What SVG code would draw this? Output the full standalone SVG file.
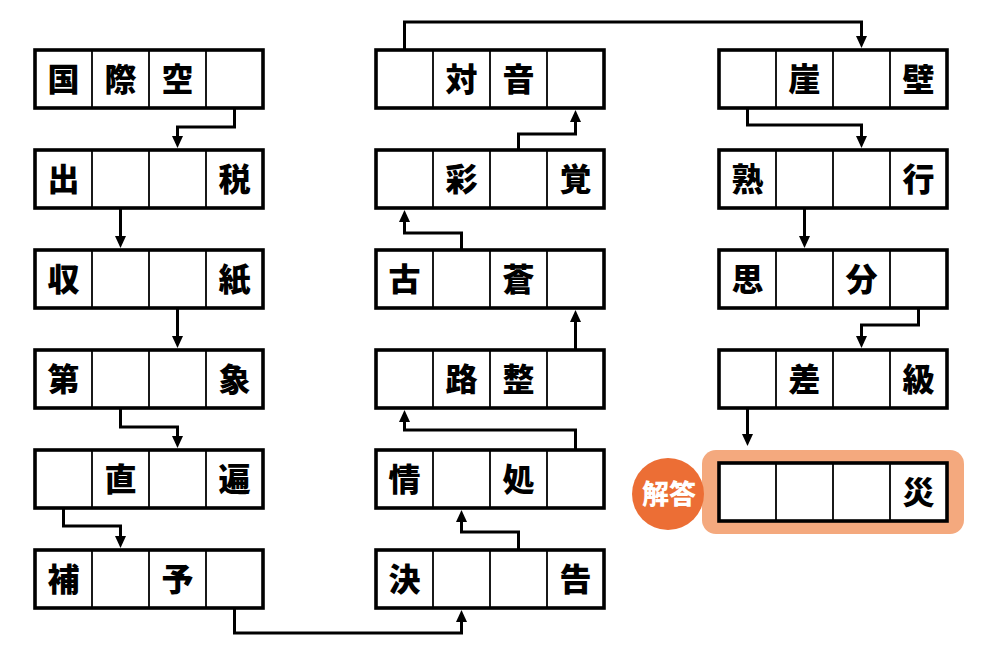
<svg xmlns="http://www.w3.org/2000/svg" width="987" height="667" viewBox="0 0 987 667">
<defs>
<style>
.box{fill:#fff;stroke:#000;stroke-width:3.6}
.div{stroke:#000;stroke-width:1.8}
.ch{font-family:"Noto Sans CJK JP","Noto Sans CJK SC",sans-serif;font-weight:900;font-size:32px;text-anchor:middle;fill:#000}
.con{fill:none;stroke:#000;stroke-width:3}
.ans{font-family:"Noto Sans CJK JP","Noto Sans CJK SC",sans-serif;font-weight:900;font-size:27px;text-anchor:middle;fill:#fff}
</style>
<marker id="arr" markerUnits="userSpaceOnUse" markerWidth="13" markerHeight="12" refX="6" refY="5.5" orient="auto" viewBox="0 0 13 12">
<path d="M0,0 L12,5.5 L0,11 z" fill="#000"/>
</marker>
<g id="cells">
<rect class="box" x="0" y="0" width="228" height="58"/>
<line class="div" x1="57" y1="0" x2="57" y2="58"/>
<line class="div" x1="114" y1="0" x2="114" y2="58"/>
<line class="div" x1="171" y1="0" x2="171" y2="58"/>
</g>
</defs>
<rect width="987" height="667" fill="#fff"/>

<g id="connectors">
<path class="con" marker-end="url(#arr)" d="M234.5 108 V127 H177.5 V142"/>
<path class="con" marker-end="url(#arr)" d="M120.5 208 V242"/>
<path class="con" marker-end="url(#arr)" d="M177.5 308 V342"/>
<path class="con" marker-end="url(#arr)" d="M120.5 408 V427 H177.5 V442"/>
<path class="con" marker-end="url(#arr)" d="M63.5 508 V526 H120.5 V542"/>
<path class="con" marker-end="url(#arr)" d="M234.5 608 V633 H461.5 V616"/>
<path class="con" marker-end="url(#arr)" d="M518.5 550 V532 H461.5 V516"/>
<path class="con" marker-end="url(#arr)" d="M575.5 450 V430 H404.5 V416"/>
<path class="con" marker-end="url(#arr)" d="M575.5 350 V316"/>
<path class="con" marker-end="url(#arr)" d="M461.5 250 V233 H404.5 V216"/>
<path class="con" marker-end="url(#arr)" d="M518.5 150 V134 H575.5 V116"/>
<path class="con" marker-end="url(#arr)" d="M404.5 50 V22 H861.5 V42"/>
<path class="con" marker-end="url(#arr)" d="M747.5 108 V125 H861.5 V142"/>
<path class="con" marker-end="url(#arr)" d="M804.5 208 V242"/>
<path class="con" marker-end="url(#arr)" d="M918.5 308 V325 H861.5 V342"/>
<path class="con" marker-end="url(#arr)" d="M747.5 408 V440"/>
</g>

<g id="n-c1r0"><use href="#cells" x="35" y="50"/><text class="ch" x="63.5" y="90.5">国</text><text class="ch" x="120.5" y="90.5">際</text><text class="ch" x="177.5" y="90.5">空</text></g>
<g id="n-c1r1"><use href="#cells" x="35" y="150"/><text class="ch" x="63.5" y="190.5">出</text><text class="ch" x="234.5" y="190.5">税</text></g>
<g id="n-c1r2"><use href="#cells" x="35" y="250"/><text class="ch" x="63.5" y="290.5">収</text><text class="ch" x="234.5" y="290.5">紙</text></g>
<g id="n-c1r3"><use href="#cells" x="35" y="350"/><text class="ch" x="63.5" y="390.5">第</text><text class="ch" x="234.5" y="390.5">象</text></g>
<g id="n-c1r4"><use href="#cells" x="35" y="450"/><text class="ch" x="120.5" y="490.5">直</text><text class="ch" x="234.5" y="490.5">遍</text></g>
<g id="n-c1r5"><use href="#cells" x="35" y="550"/><text class="ch" x="63.5" y="590.5">補</text><text class="ch" x="177.5" y="590.5">予</text></g>

<g id="n-c2r0"><use href="#cells" x="376" y="50"/><text class="ch" x="461.5" y="90.5">対</text><text class="ch" x="518.5" y="90.5">音</text></g>
<g id="n-c2r1"><use href="#cells" x="376" y="150"/><text class="ch" x="461.5" y="190.5">彩</text><text class="ch" x="575.5" y="190.5">覚</text></g>
<g id="n-c2r2"><use href="#cells" x="376" y="250"/><text class="ch" x="404.5" y="290.5">古</text><text class="ch" x="518.5" y="290.5">蒼</text></g>
<g id="n-c2r3"><use href="#cells" x="376" y="350"/><text class="ch" x="461.5" y="390.5">路</text><text class="ch" x="518.5" y="390.5">整</text></g>
<g id="n-c2r4"><use href="#cells" x="376" y="450"/><text class="ch" x="404.5" y="490.5">情</text><text class="ch" x="518.5" y="490.5">処</text></g>
<g id="n-c2r5"><use href="#cells" x="376" y="550"/><text class="ch" x="404.5" y="590.5">決</text><text class="ch" x="575.5" y="590.5">告</text></g>

<g id="n-c3r0"><use href="#cells" x="719" y="50"/><text class="ch" x="804.5" y="90.5">崖</text><text class="ch" x="918.5" y="90.5">壁</text></g>
<g id="n-c3r1"><use href="#cells" x="719" y="150"/><text class="ch" x="747.5" y="190.5">熟</text><text class="ch" x="918.5" y="190.5">行</text></g>
<g id="n-c3r2"><use href="#cells" x="719" y="250"/><text class="ch" x="747.5" y="290.5">思</text><text class="ch" x="861.5" y="290.5">分</text></g>
<g id="n-c3r3"><use href="#cells" x="719" y="350"/><text class="ch" x="804.5" y="390.5">差</text><text class="ch" x="918.5" y="390.5">級</text></g>

<g id="n-answer">
<rect x="702" y="450" width="262" height="84" rx="14" fill="#F4A97E"/>
<circle cx="668" cy="494" r="36" fill="#EC6E35"/>
<text class="ans" x="669" y="504">解答</text>
<use href="#cells" x="719" y="463"/>
<text class="ch" x="918.5" y="503.5">災</text>
</g>
</svg>
